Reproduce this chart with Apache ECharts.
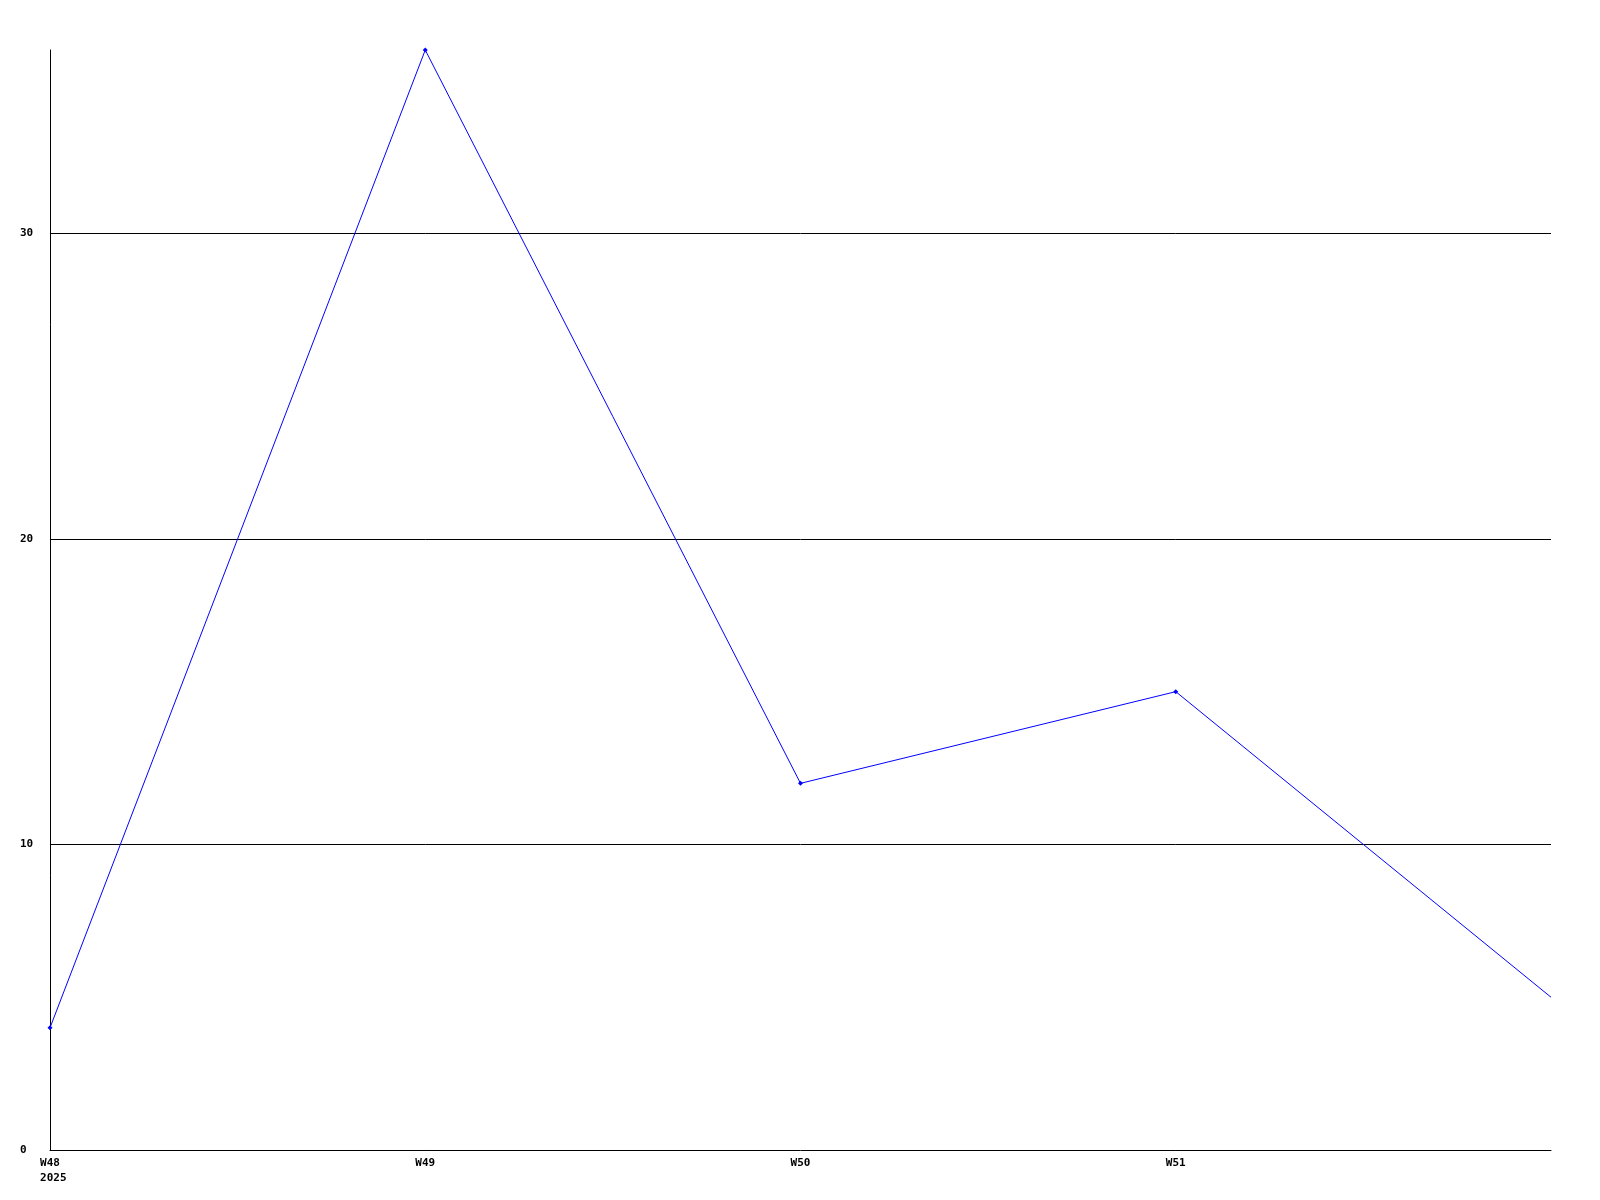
<!DOCTYPE html>
<html>
<head>
<meta charset="utf-8">
<script src="https://cdn.jsdelivr.net/npm/echarts@6/dist/echarts.min.js"></script>
<style>html,body{margin:0;padding:0;background:#fff;}#c{width:1600px;height:1200px;}</style>
</head>
<body>
<div id="c"></div>
<script>
const categories = ['W48', 'W49', 'W50', 'W51', 'W52'];
const tickLabels = ['W48\n 2025', 'W49', 'W50', 'W51', ''];
const values = [4, 36, 12, 15, 5];
const yTicks = [0, 10, 20, 30];

const chart = echarts.init(document.getElementById('c'), null, {renderer: 'canvas'});
const font = {fontFamily: '"DejaVu Sans Mono", monospace', fontSize: 11, fontWeight: 'bold', color: '#000'};
const seriesData = values.map((v, i) => i === values.length - 1 ? {value: v, symbol: 'none'} : v);
chart.setOption({
  animation: false,
  backgroundColor: '#fff',
  grid: {left: 50, right: 49, top: 50, bottom: 50, containLabel: false},
  xAxis: {
    type: 'category',
    data: categories,
    boundaryGap: false,
    axisLine: {show: true, lineStyle: {color: '#000', width: 1}},
    axisTick: {show: false},
    splitLine: {show: false},
    axisLabel: Object.assign({
      margin: 6,
      interval: 0,
      lineHeight: 15,
      formatter: (v, i) => tickLabels[i]
    }, font)
  },
  yAxis: {
    type: 'value',
    min: 0,
    max: 36,
    interval: 10,
    axisLine: {show: true, lineStyle: {color: '#000', width: 1}},
    axisTick: {show: false},
    splitLine: {show: true, showMaxLine: false, showMinLine: false, lineStyle: {color: '#000', width: 1}},
    axisLabel: Object.assign({
      margin: 30,
      align: 'left',
      showMaxLabel: false,
      formatter: v => (yTicks.indexOf(v) >= 0 ? String(v) : '')
    }, font)
  },
  series: [{
    type: 'line',
    data: seriesData,
    symbol: 'diamond',
    symbolSize: 5,
    showSymbol: true,
    lineStyle: {color: '#0000ff', width: 1},
    itemStyle: {color: '#0000ff'},
    z: 3
  }]
});
</script>
</body>
</html>
